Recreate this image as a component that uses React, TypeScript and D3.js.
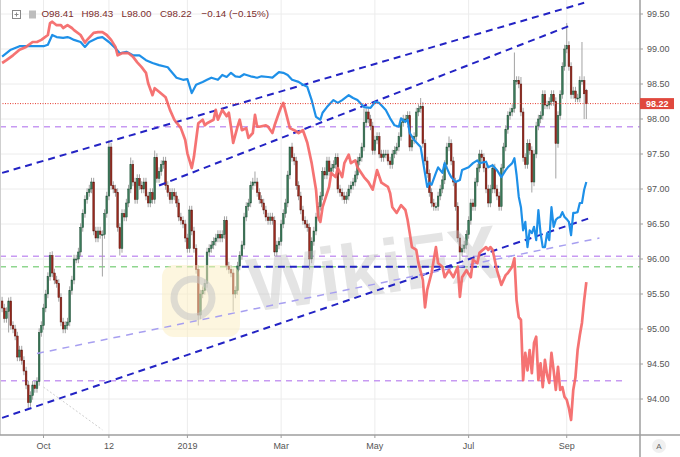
import React from "react";
import * as d3 from "d3";

const W = 680;
const H = 457;
const PANE_RIGHT = 640;
const PANE_BOTTOM = 435;
const FONT = "Liberation Sans, Arial, sans-serif";

// Daily closes (weekdays) from 2018-09-04 to 2019-09-13
const closes: number[] = [
  95.30, 95.15, 95.25, 95.40, 95.05, 95.00, 94.90, 94.60, 94.70, 94.55,
  94.40, 94.20, 93.95, 94.05, 94.20, 94.15, 94.25, 94.95, 95.05, 95.30,
  95.50, 95.75, 96.05, 95.80, 95.70, 95.65, 95.45, 95.10, 95.00, 95.05,
  95.10, 95.55, 95.70, 96.00, 96.00, 96.10, 96.45, 96.65, 96.85, 96.95,
  97.00, 97.10, 96.40, 96.30, 96.40, 96.35, 96.35, 96.65, 96.90, 97.60,
  97.05, 97.00, 96.95, 96.45, 96.15, 96.65, 96.60, 96.80, 97.00, 97.35,
  97.10, 96.85, 97.15, 97.05, 97.00, 97.10, 96.90, 96.80, 96.95, 96.85,
  97.45, 97.15, 97.25, 97.35, 97.40, 97.05, 96.95, 96.85, 96.95, 96.90,
  96.80, 96.60, 96.55, 96.50, 96.30, 96.15, 96.70, 96.40, 96.15, 95.85,
  95.20, 95.50, 95.55, 95.65, 96.10, 96.15, 96.20, 96.25, 96.30, 96.35,
  96.30, 96.35, 96.55, 95.90, 95.85, 95.80, 95.50, 95.55, 95.90, 96.05,
  96.20, 96.60, 96.75, 96.80, 97.05, 97.10, 97.10, 96.95, 96.85, 96.80,
  96.70, 96.60, 96.55, 96.60, 96.55, 96.10, 96.20, 96.25, 96.50, 96.65,
  96.80, 97.20, 97.60, 97.45, 97.40, 97.05, 96.90, 96.70, 96.55, 96.50,
  96.45, 96.00, 96.25, 96.40, 96.60, 96.75, 96.90, 97.25, 97.20, 97.40,
  97.25, 97.30, 97.35, 97.45, 97.00, 96.95, 96.90, 96.85, 96.90, 97.00,
  97.05, 97.10, 97.20, 97.40, 97.45, 97.60, 97.95, 98.10, 98.00, 97.90,
  97.55, 97.70, 97.75, 97.50, 97.45, 97.50, 97.50, 97.40, 97.35, 97.50,
  97.55, 97.60, 97.75, 97.95, 98.00, 98.00, 98.05, 97.60, 97.70, 97.75,
  98.10, 98.15, 98.18, 97.65, 97.40, 97.22, 96.95, 96.80, 96.75, 96.75,
  96.90, 97.00, 97.13, 97.35, 97.60, 97.65, 97.40, 97.10, 96.75, 96.30,
  96.10, 96.15, 96.20, 96.35, 96.55, 96.80, 96.75, 97.10, 97.30, 97.50,
  97.45, 97.30, 97.00, 96.80, 97.00, 97.30, 97.00, 96.90, 96.75, 97.30,
  97.60, 97.85, 98.05, 98.10, 98.15, 98.55, 98.55, 98.50, 98.10, 97.45,
  97.35, 97.65, 97.55, 97.10, 97.50, 97.90, 98.00, 98.05, 98.35, 98.20,
  98.20, 98.25, 98.35, 98.25, 97.65, 98.05, 98.35, 98.75, 99.00, 99.05,
  98.75, 98.35, 98.40, 98.30, 98.30, 98.55, 98.55, 98.36, 98.22,
];
const FIRST_OPEN = 95.4;
const lastBar = { open: 98.41, high: 98.43, low: 98.0, close: 98.22, change: -0.14, pct: -0.15 };
const WICK_PAD = 0.06;
// notable wick extremes: index -> [high, low] (null = default)
const wickExtremes: Record<number, [number | null, number | null]> = {
  3: [95.45, 94.95], 12: [null, 93.85], 22: [96.1, null], 46: [null, 95.75], 49: [97.7, null],
  54: [null, 96.05], 59: [97.45, null], 70: [97.55, null], 90: [null, 95.05], 106: [null, 95.25],
  116: [97.25, null], 132: [97.6, null], 141: [null, 95.85], 166: [98.15, null], 192: [98.3, null],
  205: [97.75, null], 210: [null, 95.95], 235: [98.95, null], 238: [98.6, null], 243: [null, 96.95],
  254: [null, 97.15], 259: [99.37, null], 266: [99.1, null], 267: [null, 98.0],
};

// Overlay series in price-axis units: [bar index, value]
const blueLine: [number, number][] = [
  [0, 98.89], [4, 98.99], [8, 99.04], [13, 99.04], [19, 99.04], [21, 99.06], [23, 99.2], [25, 99.17],
  [28, 99.16], [30, 99.17], [31, 99.16], [33, 99.13], [36, 99.1], [38, 99.03], [40, 99.1], [44, 99.16],
  [46, 99.17], [49, 99.1], [52, 99.01], [54, 98.94], [57, 98.96], [60, 98.91], [63, 98.91], [66, 98.84],
  [69, 98.8], [72, 98.77], [76, 98.74], [77, 98.7], [80, 98.59], [83, 98.56], [85, 98.57], [87, 98.37],
  [89, 98.49], [92, 98.53], [94, 98.56], [96, 98.59], [99, 98.56], [101, 98.63], [103, 98.6], [105, 98.66],
  [107, 98.61], [109, 98.6], [111, 98.64], [114, 98.61], [117, 98.59], [119, 98.61], [122, 98.6], [124, 98.59],
  [127, 98.67], [129, 98.66], [131, 98.63], [133, 98.56], [136, 98.53], [138, 98.49], [140, 98.46], [142, 98.27],
  [144, 98.03], [146, 97.99], [147, 98.09], [149, 98.17], [152, 98.27], [154, 98.23], [156, 98.27], [159, 98.34],
  [161, 98.3], [163, 98.27], [166, 98.17], [169, 98.16], [171, 98.24], [173, 98.23], [176, 98.13], [178, 98.01],
  [180, 97.91], [182, 97.89], [183, 98.01], [185, 97.96], [186, 97.99], [187, 97.8], [189, 97.7], [192, 97.6],
  [193, 97.41], [195, 97.03], [196, 97.09], [197, 97.06], [199, 97.23], [200, 97.31], [202, 97.23], [203, 97.37],
  [205, 97.23], [206, 97.17], [208, 97.1], [210, 97.13], [211, 97.27], [214, 97.31], [216, 97.37], [218, 97.41],
  [219, 97.37], [222, 97.39], [223, 97.31], [225, 97.34], [227, 97.27], [229, 97.17], [231, 97.27], [232, 97.31],
  [234, 97.37], [235, 97.44], [236, 97.2], [237, 96.89], [238, 96.74], [239, 96.41], [240, 96.53], [241, 96.17],
  [242, 96.41], [243, 96.37], [244, 96.46], [245, 96.27], [246, 96.7], [247, 96.37], [248, 96.17], [249, 96.17],
  [250, 96.37], [251, 96.27], [252, 96.74], [253, 96.46], [254, 96.56], [255, 96.59], [256, 96.6], [257, 96.67],
  [258, 96.6], [259, 96.57], [260, 96.53], [261, 96.34], [262, 96.66], [263, 96.66], [264, 96.67], [265, 96.8],
  [266, 96.8], [267, 96.99], [268, 97.1],
];
const redLine: [number, number][] = [
  [0, 98.8], [2, 98.84], [5, 98.91], [8, 98.99], [11, 99.03], [14, 99.1], [16, 99.1], [18, 99.13],
  [21, 99.2], [22, 99.37], [23, 99.39], [25, 99.34], [27, 99.34], [28, 99.3], [30, 99.34], [32, 99.3],
  [33, 99.27], [36, 99.2], [38, 99.09], [39, 99.13], [42, 99.23], [44, 99.24], [46, 99.24], [48, 99.2],
  [50, 99.13], [52, 99.03], [53, 98.91], [55, 98.94], [58, 98.94], [60, 98.89], [62, 98.81], [64, 98.74],
  [66, 98.66], [67, 98.51], [69, 98.34], [70, 98.44], [72, 98.39], [75, 98.31], [77, 98.13], [79, 97.99],
  [82, 97.87], [84, 97.7], [85, 97.51], [87, 97.3], [88, 97.46], [89, 97.7], [90, 97.94], [92, 97.99],
  [93, 97.91], [94, 97.94], [97, 97.99], [98, 98.13], [99, 97.99], [101, 98.13], [103, 98.04], [104, 98.09],
  [105, 97.89], [106, 97.66], [108, 97.89], [109, 97.99], [110, 97.84], [112, 97.87], [113, 97.73], [115, 97.8],
  [116, 98.06], [117, 97.89], [118, 97.89], [121, 97.91], [122, 97.89], [124, 97.8], [125, 97.91], [127, 98.09],
  [128, 98.17], [129, 98.23], [131, 97.99], [132, 97.87], [134, 97.84], [136, 97.8], [138, 97.84], [140, 97.66],
  [142, 97.37], [144, 96.99], [145, 96.6], [146, 96.53], [147, 96.74], [150, 97.03], [151, 97.23], [153, 97.17],
  [154, 97.3], [156, 97.17], [157, 97.37], [159, 97.49], [160, 97.37], [162, 97.41], [163, 97.31], [166, 97.17],
  [168, 97.1], [170, 96.99], [172, 97.27], [174, 97.09], [177, 97.03], [178, 96.94], [179, 96.74], [181, 96.66],
  [183, 96.77], [185, 96.7], [186, 96.56], [187, 96.37], [188, 96.17], [190, 96.13], [191, 95.94], [193, 95.7],
  [194, 95.31], [195, 95.56], [197, 95.8], [199, 96.17], [200, 95.94], [202, 95.89], [203, 95.74], [205, 95.84],
  [207, 95.74], [209, 95.89], [210, 95.46], [211, 95.74], [213, 95.84], [215, 95.74], [216, 95.99], [218, 95.94],
  [219, 96.09], [222, 96.17], [223, 96.13], [224, 96.17], [225, 96.13], [227, 95.84], [229, 95.63], [231, 95.77],
  [232, 95.8], [234, 95.89], [235, 96.01], [236, 95.41], [237, 95.17], [238, 95.13], [239, 94.27], [240, 94.66],
  [241, 94.41], [242, 94.7], [243, 94.37], [244, 94.8], [245, 94.89], [246, 94.27], [247, 94.51], [248, 94.17],
  [249, 94.56], [250, 94.34], [251, 94.23], [252, 94.66], [253, 94.41], [254, 94.13], [255, 94.46], [256, 94.13],
  [257, 94.17], [258, 94.03], [259, 93.99], [260, 93.87], [261, 93.7], [262, 94.13], [263, 94.31], [264, 94.7],
  [265, 94.91], [266, 95.09], [267, 95.41], [268, 95.67],
];

const priceTicks = [94, 94.5, 95, 95.5, 96, 96.5, 97, 97.5, 98, 98.5, 99, 99.5];
const timeTickDates = ["2018-10-01", "2018-11-12", "2019-01-01", "2019-03-01", "2019-05-01", "2019-07-01", "2019-09-02"];
const timeTickLabels = ["Oct", "12", "2019", "Mar", "May", "Jul", "Sep"];

// Horizontal levels: price, style, optional end bar index
const levels: { price: number; kind: string; endIdx?: number }[] = [
  { price: 97.89, kind: "purple" },
  { price: 96.04, kind: "purple" },
  { price: 94.26, kind: "purple", endIdx: 286 },
  { price: 95.89, kind: "green" },
];
// Trend lines: [idx, price] -> [idx, price]
const trendLines: { a: [number, number]; b: [number, number]; kind: string }[] = [
  { a: [0, 97.23], b: [267, 99.66], kind: "navy" },
  { a: [72, 97.05], b: [261, 99.34], kind: "navy" },
  { a: [0, 93.73], b: [271, 96.6], kind: "navy" },
  { a: [110, 95.89], b: [228, 95.89], kind: "navy" },
  { a: [16, 94.65], b: [274, 96.3], kind: "lavender" },
  { a: [19, 94.17], b: [46, 93.56], kind: "faint" },
];

const lineStyles: Record<string, { stroke: string; width: number; dash: string }> = {
  navy: { stroke: "#2323c4", width: 2, dash: "7,5" },
  lavender: { stroke: "#a79ff0", width: 1.5, dash: "7,6" },
  purple: { stroke: "#c79af2", width: 1.5, dash: "6,5" },
  green: { stroke: "#8fd68f", width: 1.5, dash: "6,5" },
  faint: { stroke: "#cfcfcf", width: 1, dash: "2,2" },
};

function weekdayDates(n: number): Date[] {
  const out: Date[] = [];
  const d = new Date(Date.UTC(2018, 8, 4));
  while (out.length < n) {
    const wd = d.getUTCDay();
    if (wd !== 0 && wd !== 6) out.push(new Date(d.getTime()));
    d.setUTCDate(d.getUTCDate() + 1);
  }
  return out;
}

export default function App() {
  const n = closes.length;
  const dates = weekdayDates(n);
  const x = d3.scaleLinear().domain([0, n - 1]).range([2.1, 2.1 + 2.18 * (n - 1)]);
  const y = d3.scaleLinear().domain([93.486, 99.7]).range([PANE_BOTTOM, 0]);
  const iso = (d: Date) => d.toISOString().slice(0, 10);
  const tickIdx = timeTickDates.map((t) => dates.findIndex((d) => iso(d) === t));

  const candles = closes.map((c, i) => {
    const isLast = i === n - 1;
    const o = isLast ? lastBar.open : i === 0 ? FIRST_OPEN : closes[i - 1];
    const ov = wickExtremes[i];
    let hi = Math.max(o, c) + WICK_PAD;
    let lo = Math.min(o, c) - WICK_PAD;
    if (ov && ov[0] != null) hi = ov[0];
    if (ov && ov[1] != null) lo = ov[1];
    if (isLast) { hi = lastBar.high; lo = lastBar.low; }
    return { i, o, c, hi, lo };
  });

  const lineGen = d3.line<[number, number]>().x((d) => x(d[0])).y((d) => y(d[1])).curve(d3.curveLinear);
  const bodyW = 1.7;
  const fmt = d3.format(".2f");
  const hdrColor = "#7b2c2c";

  return (
    <svg width={W} height={H} style={{ position: "fixed", left: 0, top: 0, background: "#fff" }} fontFamily={FONT}>
      <rect x={0} y={0} width={W} height={H} fill="#fff" />
      <defs>
        <clipPath id="pane">
          <rect x={0} y={0} width={PANE_RIGHT} height={PANE_BOTTOM} />
        </clipPath>
      </defs>
      {/* grid */}
      {priceTicks.map((p) => (
        <line key={"hg" + p} x1={0} x2={PANE_RIGHT} y1={y(p)} y2={y(p)} stroke="#ececec" strokeWidth={1} />
      ))}
      {tickIdx.map((ti, k) => (
        <line key={"vg" + k} x1={x(ti)} x2={x(ti)} y1={0} y2={PANE_BOTTOM} stroke="#ececec" strokeWidth={1} />
      ))}
      <g clipPath="url(#pane)">
        {/* horizontal levels */}
        {levels.map((l, k) => {
          const st = lineStyles[l.kind];
          return (
            <line key={"lv" + k} x1={0} x2={l.endIdx != null ? x(l.endIdx) : PANE_RIGHT} y1={y(l.price)} y2={y(l.price)}
              stroke={st.stroke} strokeWidth={st.width} strokeDasharray={st.dash} />
          );
        })}
        {/* candles */}
        {candles.map((d) => {
          const up = d.c >= d.o;
          const top = y(Math.max(d.o, d.c));
          const bot = y(Math.min(d.o, d.c));
          return (
            <g key={"c" + d.i}>
              <line x1={x(d.i)} x2={x(d.i)} y1={y(d.hi)} y2={y(d.lo)} stroke="#a3a3a3" strokeWidth={1} />
              <rect x={x(d.i) - bodyW / 2} y={top} width={bodyW} height={Math.max(1, bot - top)}
                fill={up ? "#3b7a5a" : "#9a2a1f"} stroke={up ? "#24533b" : "#621810"} strokeWidth={0.5} />
            </g>
          );
        })}
        {/* watermark */}
        <g>
          <rect x={162} y={265} width={78} height={72} rx={12} fill="#fbeec0" opacity={0.5} />
          <circle cx={193} cy={298} r={19} fill="none" stroke="#c4c4c4" strokeWidth={7} opacity={0.55} />
          <text x={252} y={312} fontSize={76} fontWeight="bold" fill="#bdbdbd" opacity={0.4}
            transform="rotate(-8 252 312)" fontFamily={FONT}>WikiFX</text>
        </g>
        {/* trend lines */}
        {trendLines.map((t, k) => {
          const st = lineStyles[t.kind];
          return (
            <line key={"tl" + k} x1={x(t.a[0])} y1={y(t.a[1])} x2={x(t.b[0])} y2={y(t.b[1])}
              stroke={st.stroke} strokeWidth={st.width} strokeDasharray={st.dash} />
          );
        })}
        {/* overlay lines */}
        <path d={lineGen(blueLine) || ""} fill="none" stroke="#1e90e8" strokeWidth={2.2} strokeLinejoin="round" />
        <path d={lineGen(redLine) || ""} fill="none" stroke="#f46767" strokeWidth={2.7} strokeLinejoin="round" opacity={0.92} />
        {/* last price line */}
        <line x1={0} x2={PANE_RIGHT} y1={y(lastBar.close)} y2={y(lastBar.close)} stroke="#e53a2f" strokeWidth={1} strokeDasharray="1,1.5" />
      </g>
      {/* frame / axes */}
      <line x1={0.5} x2={0.5} y1={0} y2={PANE_BOTTOM} stroke="#cfcfcf" />
      <line x1={PANE_RIGHT} x2={PANE_RIGHT} y1={0} y2={H} stroke="#9e9e9e" strokeWidth={1.5} />
      <line x1={0} x2={W} y1={PANE_BOTTOM} y2={PANE_BOTTOM} stroke="#9e9e9e" strokeWidth={1.5} />
      {priceTicks.map((p) => (
        <g key={"yt" + p}>
          <line x1={PANE_RIGHT} x2={PANE_RIGHT + 3} y1={y(p)} y2={y(p)} stroke="#9e9e9e" />
          <text x={PANE_RIGHT + 7} y={y(p)} dy="0.35em" fontSize={9} fill="#555">{fmt(p)}</text>
        </g>
      ))}
      {tickIdx.map((ti, k) => (
        <g key={"xt" + k}>
          <line x1={x(ti)} x2={x(ti)} y1={PANE_BOTTOM} y2={PANE_BOTTOM + 3} stroke="#9e9e9e" />
          <text x={x(ti)} y={PANE_BOTTOM + 11} dy="0.35em" fontSize={9} fill="#555" textAnchor="middle">{timeTickLabels[k]}</text>
        </g>
      ))}
      {/* price label */}
      <rect x={PANE_RIGHT} y={y(lastBar.close) - 5.5} width={34} height={11} fill="#e0483d" />
      <text x={PANE_RIGHT + 6} y={y(lastBar.close)} dy="0.35em" fontSize={9} fill="#fff" fontWeight="bold">{fmt(lastBar.close)}</text>
      {/* auto-scale button */}
      <circle cx={659} cy={446} r={7} fill="#f0f0f0" />
      <text x={659} y={446} dy="0.35em" fontSize={8} fill="#666" textAnchor="middle">A</text>
      {/* header */}
      <rect x={12.5} y={10.5} width={8} height={8} fill="#fff" stroke="#888" strokeWidth={1} />
      <line x1={14.5} x2={18.5} y1={14.5} y2={14.5} stroke="#888" />
      <line x1={16.5} x2={16.5} y1={12.5} y2={16.5} stroke="#888" />
      <rect x={29} y={10.5} width={7} height={8} fill="#bdbdbd" />
      <text y={14} dy="0.35em" fontSize={9.8} fill={hdrColor}>
        <tspan x={41.5}>{"O" + fmt(lastBar.open)}</tspan>
        <tspan x={81.5}>{"H" + fmt(lastBar.high)}</tspan>
        <tspan x={121.5}>{"L" + fmt(lastBar.low)}</tspan>
        <tspan x={160}>{"C" + fmt(lastBar.close)}</tspan>
        <tspan x={201.5}>{"\u2212" + Math.abs(lastBar.change).toFixed(2) + " (\u2212" + Math.abs(lastBar.pct).toFixed(2) + "%)"}</tspan>
      </text>
    </svg>
  );
}
